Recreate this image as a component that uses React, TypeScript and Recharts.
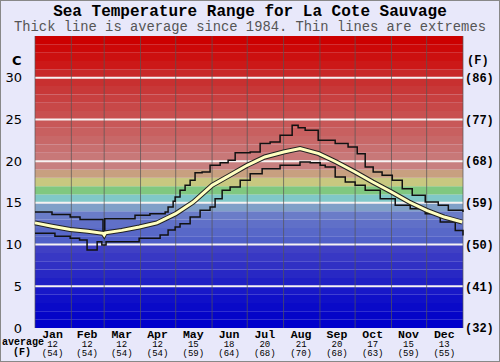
import { LineChart, Line, XAxis, YAxis, ReferenceArea, ReferenceLine } from "recharts";

const monthNames = ["Jan", "Feb", "Mar", "Apr", "May", "Jun", "Jul", "Aug", "Sep", "Oct", "Nov", "Dec"];
const monthAvgC = [12, 12, 12, 12, 15, 18, 20, 21, 20, 17, 15, 13];
const monthAvgF = [54, 54, 54, 54, 59, 64, 68, 70, 68, 63, 59, 55];
const monthStarts = [0, 31, 59, 90, 120, 151, 181, 212, 243, 273, 304, 334, 365];
const monthMids = [15, 44.5, 74, 104.5, 135, 165.5, 196, 227, 257.5, 288, 318.5, 349];

// daily average (day of year -> C)
const avgDays = [0, 14.5, 30, 45, 58, 59, 60, 74, 89, 104, 120, 135, 151, 166, 181, 196, 212, 226, 242, 257, 273, 288, 304, 319, 334, 349, 364.4];
const avgTemps = [12.6, 12.2, 11.8, 11.6, 11.35, 11.15, 11.4, 11.7, 12.1, 12.6, 13.7, 15.1, 17.1, 18.3, 19.5, 20.5, 21.1, 21.5, 20.9, 19.9, 18.7, 17.5, 16.3, 15.1, 14.1, 13.3, 12.7];

// highest recorded
const maxDays = [0, 14.5, 30, 38.4, 58, 59.5, 64, 85.3, 98, 111, 113.5, 117.8, 119.5, 123.7, 128, 132.3, 136.5, 142.5, 149.3, 157.9, 164.7, 170.7, 183.5, 192, 200.5, 209, 219.3, 224.4, 230.4, 241.5, 256, 267, 274.8, 281.6, 288.4, 296, 304.7, 313.2, 321.7, 332.8, 343.9, 352.5, 365];
const maxTemps = [13.9, 13.6, 13.3, 13.0, 11.5, 13.1, 13.1, 13.5, 13.7, 13.9, 14.5, 15.2, 15.7, 16.5, 17.1, 17.7, 18.6, 18.7, 19.5, 19.8, 20.1, 21.0, 21.1, 22.1, 22.3, 23.1, 24.3, 24.0, 23.7, 22.5, 22.1, 21.7, 20.9, 19.3, 18.7, 18.3, 17.7, 16.7, 15.9, 15.1, 14.7, 14.1, 13.9];

// lowest recorded
const minDays = [0, 17, 30, 38, 44.4, 53, 57, 60.6, 88.8, 106.7, 113.5, 119.5, 123.7, 132.3, 140.8, 149.3, 153.6, 159.6, 166.4, 175, 183.5, 193.7, 209, 226, 234.7, 243.2, 247.5, 256, 264.6, 273, 281.6, 294.4, 307.2, 320, 332.8, 345.6, 358.4, 365];
const minTemps = [11.35, 11.0, 10.75, 10.55, 9.35, 10.35, 9.95, 10.35, 10.75, 11.15, 11.75, 12.1, 12.5, 13.3, 14.1, 14.5, 15.5, 16.5, 16.9, 17.7, 18.5, 19.1, 19.5, 19.9, 19.8, 19.5, 19.3, 18.1, 17.5, 17.1, 16.5, 15.5, 14.7, 14.3, 13.7, 12.7, 11.7, 11.1];

const cTicks = [0, 5, 10, 15, 20, 25, 30];
const gridTemps = [5, 10, 15, 20, 25, 30];

const bandColors = [
  "#0000cc", "#0505c8", "#0a0ac8", "#1010c8", "#1818c8", "#2020c4", "#2828c4", "#3030c4", "#3838c4", "#4040c4",
  "#5060c8", "#5868c8", "#6070c8", "#6a7cc8", "#80a0c8", "#80c8c8", "#80c880", "#c8c880", "#c8a080", "#c88080",
  "#c87878", "#c87070", "#c86868", "#c86060", "#c85858", "#c85050", "#c84848", "#c84040", "#c83838", "#c83030",
  "#c82828", "#cc1818", "#cc1010", "#cc0808", "#cc0000",
];

const avgData = avgDays.map((day, i) => ({ day, t: avgTemps[i] }));
const maxData = maxDays.map((day, i) => ({ day, t: maxTemps[i] }));
const minData = minDays.map((day, i) => ({ day, t: minTemps[i] }));

const mono = "'Liberation Mono', 'Courier New', monospace";

const MonthTick = (props: any) => {
  const { x, y, payload } = props;
  const i = monthMids.indexOf(payload.value);
  if (i < 0) return null;
  return (
    <g>
      <text x={x} y={y + 9.5} textAnchor="middle" fontFamily={mono} fontWeight="bold" fontSize={11.5} fill="#000">
        {monthNames[i]}
      </text>
      <text x={x} y={y + 18.5} textAnchor="middle" fontFamily={mono} fontSize={9} fill="#000">
        {monthAvgC[i]}
      </text>
      <text x={x} y={y + 27.5} textAnchor="middle" fontFamily={mono} fontSize={9} fill="#000">
        ({monthAvgF[i]})
      </text>
    </g>
  );
};

const App = () => {
  return (
    <div style={{ position: "relative", width: 500, height: 362, background: "#e8e8fa" }}>
      <style>{`body{margin:0}`}</style>
      <div
        style={{
          position: "absolute", left: 0, top: 0, width: 500, height: 362,
          boxSizing: "border-box", border: "1px solid #888", pointerEvents: "none",
        }}
      />
      <div style={{ position: "absolute", left: 0, top: 4, width: 500, textAlign: "center", fontFamily: mono, fontWeight: "bold", fontSize: 16, lineHeight: "16px" }}>
        Sea Temperature Range for La Cote Sauvage
      </div>
      <div style={{ position: "absolute", left: 0, top: 21, width: 500, textAlign: "center", fontFamily: mono, fontSize: 13.8, lineHeight: "13px", color: "#555" }}>
        Thick line is average since 1984. Thin lines are extremes
      </div>
      <div style={{ position: "absolute", left: 12, top: 53, fontFamily: "'DejaVu Sans', sans-serif", fontWeight: "bold", fontSize: 13 }}>C</div>
      <div style={{ position: "absolute", left: 467, top: 54, fontFamily: mono, fontWeight: "bold", fontSize: 12 }}>(F)</div>
      <div style={{ position: "absolute", left: 2, top: 338, fontFamily: mono, fontWeight: "bold", fontSize: 10, lineHeight: "9px" }}>average</div>
      <div style={{ position: "absolute", left: 13, top: 348, fontFamily: mono, fontWeight: "bold", fontSize: 10, lineHeight: "9px" }}>(F)</div>
      <div style={{ position: "absolute", left: 0, top: 0 }}>
        <LineChart width={500} height={362} margin={{ top: 36, right: 0, bottom: 0, left: 0 }}>
          <XAxis
            dataKey="day"
            type="number"
            domain={[0, 365]}
            ticks={monthMids}
            interval={0}
            axisLine={false}
            tickLine={false}
            tickSize={0}
            tickMargin={0}
            height={34}
            tick={<MonthTick />}
          />
          <YAxis
            yAxisId="c"
            type="number"
            domain={[0, 35]}
            ticks={cTicks}
            width={35}
            axisLine={false}
            tickLine={false}
            tickSize={0}
            tickMargin={13}
            tick={{ fill: "#000", fontSize: 13, fontFamily: "'DejaVu Sans', sans-serif" }}
          />
          <YAxis
            yAxisId="f"
            orientation="right"
            type="number"
            domain={[0, 35]}
            ticks={cTicks}
            width={37}
            axisLine={false}
            tickLine={false}
            tickSize={0}
            tickMargin={2}
            tickFormatter={(c: number) => `(${Math.round((c * 9) / 5 + 32)})`}
            tick={{ fill: "#000", fontSize: 12, fontWeight: "bold", fontFamily: mono }}
          />
          {bandColors.map((col, i) => (
            <ReferenceArea
              key={`b${i}`}
              yAxisId="c"
              x1={0}
              x2={365}
              y1={i}
              y2={i + 1}
              fill={col}
              fillOpacity={1}
              stroke="none"
            />
          ))}
          {gridTemps.map((v) => (
            <ReferenceLine key={`h${v}`} yAxisId="c" y={v} stroke="#f6f2f2" strokeWidth={2} />
          ))}
          {monthStarts.map((d) => (
            <ReferenceLine key={`v${d}`} yAxisId="c" x={d} stroke="#555" strokeOpacity={0.7} strokeWidth={1} />
          ))}
          <Line yAxisId="f" data={maxData} dataKey="t" type="stepAfter" stroke="#111" strokeWidth={1.5} dot={false} activeDot={false} isAnimationActive={false} />
          <Line yAxisId="c" data={minData} dataKey="t" type="stepAfter" stroke="#111" strokeWidth={1.5} dot={false} activeDot={false} isAnimationActive={false} />
          <Line yAxisId="c" data={avgData} dataKey="t" type="linear" stroke="#222" strokeWidth={5} dot={false} activeDot={false} isAnimationActive={false} />
          <Line yAxisId="c" data={avgData} dataKey="t" type="linear" stroke="#ffffc0" strokeWidth={3} dot={false} activeDot={false} isAnimationActive={false} />
        </LineChart>
      </div>
    </div>
  );
};

export default App;
